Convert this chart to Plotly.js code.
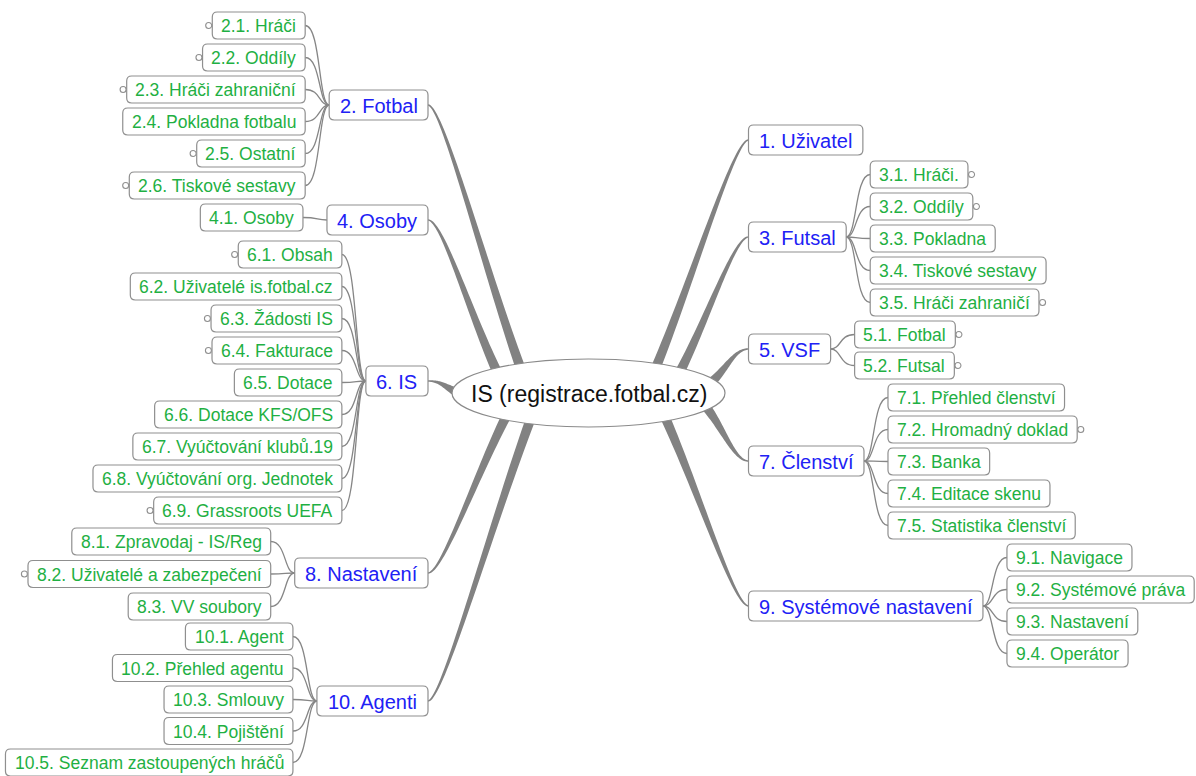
<!DOCTYPE html>
<html><head><meta charset="utf-8">
<script src="https://cdn.plot.ly/plotly-3.0.1.min.js"></script>
<style>html,body{margin:0;padding:0;background:#fff;overflow:hidden}</style>
</head><body><div id="chart" style="width:1196px;height:776px"></div>
<script>
// ---------------- data ----------------
const centerLabel = "IS (registrace.fotbal.cz)";
const branchLabels = ["1. Uživatel","2. Fotbal","3. Futsal","4. Osoby","5. VSF","6. IS","7. Členství","8. Nastavení","9. Systémové nastavení","10. Agenti"];
const uzivatelItems = [];
const fotbalItems = ["2.1. Hráči","2.2. Oddíly","2.3. Hráči zahraniční","2.4. Pokladna fotbalu","2.5. Ostatní","2.6. Tiskové sestavy"];
const futsalItems = ["3.1. Hráči.","3.2. Oddíly","3.3. Pokladna","3.4. Tiskové sestavy","3.5. Hráči zahraničí"];
const osobyItems = ["4.1. Osoby"];
const vsfItems = ["5.1. Fotbal","5.2. Futsal"];
const isItems = ["6.1. Obsah","6.2. Uživatelé is.fotbal.cz","6.3. Žádosti IS","6.4. Fakturace","6.5. Dotace","6.6. Dotace KFS/OFS","6.7. Vyúčtování klubů.19","6.8. Vyúčtování org. Jednotek","6.9. Grassroots UEFA"];
const clenstviItems = ["7.1. Přehled členství","7.2. Hromadný doklad","7.3. Banka","7.4. Editace skenu","7.5. Statistika členství"];
const nastaveniItems = ["8.1. Zpravodaj - IS/Reg","8.2. Uživatelé a zabezpečení","8.3. VV soubory"];
const systemItems = ["9.1. Navigace","9.2. Systémové práva","9.3. Nastavení","9.4. Operátor"];
const agentiItems = ["10.1. Agent","10.2. Přehled agentu","10.3. Smlouvy","10.4. Pojištění","10.5. Seznam zastoupených hráčů"];
// 1 = item has collapsed sub-items (small circle marker)
const uzivatelCollapsed = [];
const fotbalCollapsed = [1,1,1,0,1,1];
const futsalCollapsed = [1,1,0,0,1];
const osobyCollapsed = [0];
const vsfCollapsed = [1,1];
const isCollapsed = [1,0,1,1,0,0,0,0,1];
const clenstviCollapsed = [0,1,0,0,0];
const nastaveniCollapsed = [0,1,0];
const systemCollapsed = [0,0,0,0];
const agentiCollapsed = [0,0,0,0,0];

const branchItems = [uzivatelItems,fotbalItems,futsalItems,osobyItems,vsfItems,isItems,clenstviItems,nastaveniItems,systemItems,agentiItems];
const branchCollapsed = [uzivatelCollapsed,fotbalCollapsed,futsalCollapsed,osobyCollapsed,vsfCollapsed,isCollapsed,clenstviCollapsed,nastaveniCollapsed,systemCollapsed,agentiCollapsed];

// ---------------- layout (positions / styles) ----------------
const W = 1196, H = 776;
const branchSide = [1,-1,1,-1,1,-1,1,-1,1,-1];          // 1 = right of centre, -1 = left
const branchCenterY = [140,105,237,220,349,381,461,573,606,701];
const childTopY = [0,12,161,204,321,241,384,528,544,623];
const childPitchB = [32,32,32,32,31,32,32,32.5,32,31.5];
const branchJoin = [[663,363],[513,363],[690,368],[487,368],[717,382],[452,393],[717,408],[498,420],[675,422],[523,425]];
const leftAnchorX = 428, rightAnchorX = 748.5;
const ell = {cx:588.5, cy:393, rx:136.5, ry:34};
const childH = 27, branchH = 30, childGap = 24;
const FONT = '"Liberation Sans", Arial, Helvetica, sans-serif';
const childSize = 17.5, branchSize = 20, centerSize = 23;
const GREEN = '#1fb043', BLUE = '#2121f5', BORDER = '#8f8f8f', LINK = '#868686';

const cv = document.createElement('canvas').getContext('2d');
function textW(t, s){ cv.font = s + 'px ' + FONT; return cv.measureText(t).width; }
function rrect(x0,y0,x1,y1,r){
  return `M${x0+r},${y0} L${x1-r},${y0} Q${x1},${y0} ${x1},${y0+r} L${x1},${y1-r} Q${x1},${y1} ${x1-r},${y1} L${x0+r},${y1} Q${x0},${y1} ${x0},${y1-r} L${x0},${y0+r} Q${x0},${y0} ${x0+r},${y0} Z`;
}
function bez(p0,p1,p2,p3,t){
  const u=1-t;
  return [u*u*u*p0[0]+3*u*u*t*p1[0]+3*u*t*t*p2[0]+t*t*t*p3[0],
          u*u*u*p0[1]+3*u*u*t*p1[1]+3*u*t*t*p2[1]+t*t*t*p3[1]];
}
function bezD(p0,p1,p2,p3,t){
  const u=1-t;
  return [3*u*u*(p1[0]-p0[0])+6*u*t*(p2[0]-p1[0])+3*t*t*(p3[0]-p2[0]),
          3*u*u*(p1[1]-p0[1])+6*u*t*(p2[1]-p1[1])+3*t*t*(p3[1]-p2[1])];
}

const linkShapes = [], boxShapes = [], dotShapes = [], annotations = [];

branchLabels.forEach((lab, i) => {
  const s = branchSide[i];
  const w = textW(lab, branchSize) + 21;
  const cy = branchCenterY[i];
  const x0 = s > 0 ? rightAnchorX : leftAnchorX - w;
  const x1 = s > 0 ? rightAnchorX + w : leftAnchorX;
  boxShapes.push({type:'path', path: rrect(x0, cy-branchH/2, x1, cy+branchH/2, 5), fillcolor:'#fff', line:{color:BORDER, width:1.2}});
  annotations.push({x:(x0+x1)/2, y:cy+1, text:lab, font:{family:FONT, size:branchSize, color:BLUE}});

  // tapered connector from centre ellipse to branch node
  const innerX = s > 0 ? x0 : x1;
  const jp = branchJoin[i];
  const dx = jp[0]-ell.cx, dy = jp[1]-ell.cy;
  const f = 1/Math.sqrt((dx/ell.rx)**2 + (dy/ell.ry)**2) * 0.95;
  const p3 = [ell.cx + dx*f, ell.cy + dy*f];
  const p0 = [innerX, cy];
  const p1 = [innerX - s*14, cy];
  const p2 = [p3[0] + (p0[0]-p3[0])*0.42, p3[1] + (p0[1]-p3[1])*0.42];
  const L = [], R = [];
  const N = 40;
  for (let k=0; k<=N; k++){
    const t = k/N;
    const p = bez(p0,p1,p2,p3,t), d = bezD(p0,p1,p2,p3,t);
    const len = Math.hypot(d[0], d[1]) || 1;
    const nx = -d[1]/len, ny = d[0]/len;
    const hw = 0.7 + 4.1*Math.pow(t, 1.3);
    L.push([p[0]+nx*hw, p[1]+ny*hw]); R.push([p[0]-nx*hw, p[1]-ny*hw]);
  }
  const poly = L.concat(R.reverse());
  const path = 'M' + poly.map(q => q[0].toFixed(2)+','+q[1].toFixed(2)).join(' L') + ' Z';
  linkShapes.push({type:'path', path, fillcolor:'#828282', line:{width:0}});

  // children
  const outerX = s > 0 ? x1 : x0;
  const edge = outerX + s*childGap;
  const items = branchItems[i], coll = branchCollapsed[i];
  items.forEach((it, j) => {
    const cw = textW(it, childSize) + 18;
    const ty = childTopY[i] + j*childPitchB[i];
    const ccy = ty + childH/2;
    const cx0 = s > 0 ? edge : edge - cw;
    const cx1 = s > 0 ? edge + cw : edge;
    const g = edge - outerX;
    const q0 = [outerX, cy], q1 = [outerX + g*0.45, cy], q2 = [outerX + g*0.35, ccy], q3 = [edge, ccy];
    linkShapes.push({type:'path', path:`M${q0[0]},${q0[1]} C${q1[0]},${q1[1]} ${q2[0]},${q2[1]} ${q3[0]},${q3[1]}`, fillcolor:'rgba(0,0,0,0)', line:{color:LINK, width:1.3}});
    boxShapes.push({type:'path', path: rrect(cx0, ty, cx1, ty+childH, 5), fillcolor:'#fff', line:{color:BORDER, width:1.2}});
    annotations.push({x:(cx0+cx1)/2, y:ccy+0.5, text:it, font:{family:FONT, size:childSize, color:GREEN}});
    if (coll[j]) {
      const dcx = s > 0 ? cx1 + 3.6 : cx0 - 3.6;
      dotShapes.push({type:'circle', x0:dcx-3, x1:dcx+3, y0:ccy-3, y1:ccy+3, fillcolor:'#fff', line:{color:BORDER, width:1.1}});
    }
  });
});

const ellipseShape = {type:'circle', x0:ell.cx-ell.rx, x1:ell.cx+ell.rx, y0:ell.cy-ell.ry, y1:ell.cy+ell.ry, fillcolor:'#fff', line:{color:'#8a8a8a', width:1.2}};
annotations.push({x:ell.cx, y:ell.cy+1, text:centerLabel, font:{family:FONT, size:centerSize, color:'#111'}});

annotations.forEach(a => { a.xref='x'; a.yref='y'; a.showarrow=false; a.xanchor='center'; a.yanchor='middle'; });
const shapes = linkShapes.concat([ellipseShape], boxShapes, dotShapes).map(sh => Object.assign({xref:'x', yref:'y', layer:'above'}, sh));

Plotly.newPlot('chart', [{x:[0], y:[0], mode:'markers', marker:{opacity:0}, hoverinfo:'skip', showlegend:false}], {
  width: W, height: H,
  margin: {l:0, r:0, t:0, b:0, pad:0},
  paper_bgcolor:'#fff', plot_bgcolor:'#fff',
  xaxis: {range:[0, W], visible:false, fixedrange:true},
  yaxis: {range:[H, 0], visible:false, fixedrange:true},
  shapes, annotations, showlegend:false
}, {displayModeBar:false, staticPlot:true});
</script></body></html>
